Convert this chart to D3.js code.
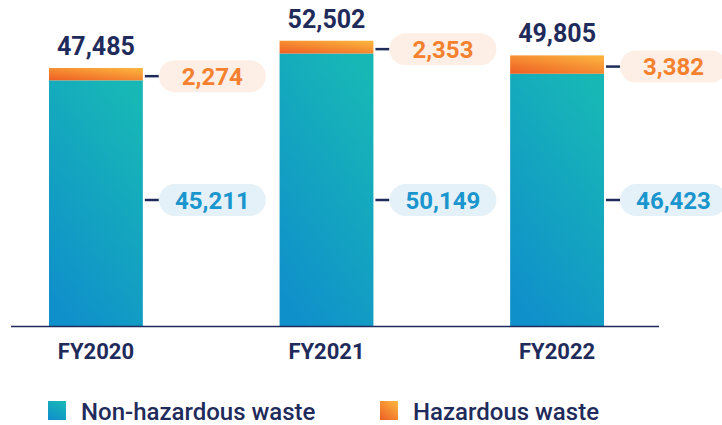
<!DOCTYPE html>
<html>
<head>
<meta charset="utf-8">
<script src="https://cdn.jsdelivr.net/npm/d3@7"></script>
<style>
  body { margin: 0; background: #fff; }
  svg { display: block; font-family: Roboto, 'Noto Sans', sans-serif; }
</style>
</head>
<body>
<svg id="chart"></svg>
<script>
const years = ['FY2020', 'FY2021', 'FY2022'];
const nonHazardous = [45211, 50149, 46423];
const hazardous = [2274, 2353, 3382];
const totals = [47485, 52502, 49805];
const legendLabels = ['Non-hazardous waste', 'Hazardous waste'];

const width = 722;
const height = 425;
const navy = '#1f2b5b';

const svg = d3.select('#chart')
	.attr('width', width)
	.attr('height', height);

const defs = svg.append('defs');

// diagonal gradients, teal on top for the base, orange fading into yellow for the cap
const addGradient = (id, x1, y1, x2, y2, from, to) => {
	const g = defs.append('linearGradient')
		.attr('id', id)
		.attr('x1', x1).attr('y1', y1)
		.attr('x2', x2).attr('y2', y2);
	g.append('stop').attr('offset', '0%').attr('stop-color', from);
	g.append('stop').attr('offset', '100%').attr('stop-color', to);
};
addGradient('gradNon', '0.75', '0', '0.25', '1', '#17b7b6', '#1090cb');
addGradient('gradHaz', '0', '1', '0.8', '0', '#ee5e24', '#fbb03d');

const x = d3.scaleBand()
	.domain(years)
	.range([49, 604])
	.paddingInner(0.593)
	.paddingOuter(0);

const y = d3.scaleLinear()
	.domain([0, 60000])
	.range([326, 0]);

const rows = years.map((year, i) => ({
	year: year,
	non: nonHazardous[i],
	haz: hazardous[i],
	total: totals[i]
}));

const bars = svg.selectAll('g.bar')
	.data(rows)
	.enter().append('g')
	.attr('class', 'bar');

bars.append('rect')
	.attr('x', (d) => x(d.year))
	.attr('y', (d) => y(d.non))
	.attr('width', x.bandwidth())
	.attr('height', (d) => y(0) - y(d.non))
	.attr('fill', 'url(#gradNon)');

bars.append('rect')
	.attr('x', (d) => x(d.year))
	.attr('y', (d) => y(d.non + d.haz))
	.attr('width', x.bandwidth())
	.attr('height', (d) => y(d.non) - y(d.non + d.haz))
	.attr('fill', 'url(#gradHaz)');

// totals above the bars
bars.append('text')
	.attr('x', (d) => x(d.year) + x.bandwidth() / 2)
	.attr('y', (d) => y(d.total) - 13)
	.attr('text-anchor', 'middle')
	.attr('font-size', 25)
	.attr('font-weight', 700)
	.attr('fill', navy)
	.text((d) => d3.format(',')(d.total));

// callout pills on the right side of each bar
const pillW = 107, pillH = 32;
const addCallout = (sel, yPos, fill, color, value) => {
	const g = sel.append('g');
	g.append('line')
		.attr('x1', (d) => x(d.year) + x.bandwidth() + 2)
		.attr('x2', (d) => x(d.year) + x.bandwidth() + 16)
		.attr('y1', yPos)
		.attr('y2', yPos)
		.attr('stroke', navy)
		.attr('stroke-width', 2.5);
	g.append('rect')
		.attr('x', (d) => x(d.year) + x.bandwidth() + 16)
		.attr('y', (d) => yPos(d) - pillH / 2)
		.attr('width', pillW)
		.attr('height', pillH)
		.attr('rx', pillH / 2)
		.attr('fill', fill);
	g.append('text')
		.attr('x', (d) => x(d.year) + x.bandwidth() + 16 + pillW / 2)
		.attr('y', (d) => yPos(d))
		.attr('dy', '0.36em')
		.attr('text-anchor', 'middle')
		.attr('font-size', 24)
		.attr('font-weight', 700)
		.attr('fill', color)
		.text((d) => d3.format(',')(value(d)));
};

addCallout(bars, (d) => (y(d.non) + y(d.non + d.haz)) / 2 + 2, '#fdefe6', '#f5812e', (d) => d.haz);
addCallout(bars, () => 200, '#e4f1f8', '#1a95cd', (d) => d.non);

// baseline
svg.append('line')
	.attr('x1', 11)
	.attr('x2', 659)
	.attr('y1', y(0) + 0.5)
	.attr('y2', y(0) + 0.5)
	.attr('stroke', navy)
	.attr('stroke-width', 1.5);

// category labels
svg.selectAll('text.cat')
	.data(years)
	.enter().append('text')
	.attr('class', 'cat')
	.attr('x', (d) => x(d) + x.bandwidth() / 2)
	.attr('y', 359)
	.attr('text-anchor', 'middle')
	.attr('font-size', 22)
	.attr('font-weight', 700)
	.attr('fill', navy)
	.text((d) => d);

// legend
const legendX = [48, 380];
const legendFill = ['url(#gradNon)', 'url(#gradHaz)'];
const legend = svg.selectAll('g.legend')
	.data(legendLabels)
	.enter().append('g')
	.attr('class', 'legend')
	.attr('transform', (d, i) => 'translate(' + legendX[i] + ',401)');

legend.append('rect')
	.attr('width', 18)
	.attr('height', 19)
	.attr('fill', (d, i) => legendFill[i]);

legend.append('text')
	.attr('x', 33)
	.attr('y', 19)
	.attr('font-size', 24)
	.attr('font-weight', 500)
	.attr('fill', navy)
	.text((d) => d);
</script>
</body>
</html>
